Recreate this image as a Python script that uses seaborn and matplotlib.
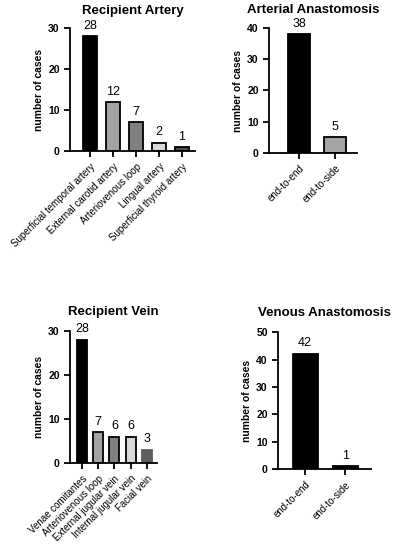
import pandas as pd
import matplotlib
matplotlib.use("Agg")
import matplotlib.pyplot as plt
import seaborn as sns

# datos
artery_names = ["Superficial temporal artery", "External carotid artery", "Arteriovenous loop",
                "Lingual artery", "Superficial thyroid artery"]
artery_cases = [28, 12, 7, 2, 1]
artery_colors = ["#000000", "#a3a3a3", "#7f7f7f", "#d9d9d9", "#4d4d4d"]

art_anast_names = ["end-to-end", "end-to-side"]
art_anast_cases = [38, 5]
art_anast_colors = ["#000000", "#a3a3a3"]

vein_names = ["Venae comitantes", "Arteriovenous loop", "External jugular vein",
              "Internal jugular vein", "Facial vein"]
vein_cases = [28, 7, 6, 6, 3]
vein_colors = ["#000000", "#a3a3a3", "#7f7f7f", "#d9d9d9", "#5e5e5e"]

ven_anast_names = ["end-to-end", "end-to-side"]
ven_anast_cases = [42, 1]
ven_anast_colors = ["#000000", "#000000"]

sns.set_style("ticks")
plt.rcParams["font.family"] = ["Liberation Sans", "DejaVu Sans"]
plt.rcParams["text.color"] = "black"
plt.rcParams["axes.labelcolor"] = "black"

fig = plt.figure(figsize=(3.94, 5.5), dpi=100)

paneles = [
    ("Recipient Artery", artery_names, artery_cases, artery_colors,
     [0.178, 0.7255, 0.317, 0.2235], (-0.87, 4.57), 30, 10, [True] * 5, 10),
    ("Arterial Anastomosis", art_anast_names, art_anast_cases, art_anast_colors,
     [0.683, 0.722, 0.223, 0.227], (-0.83, 1.61), 40, 10, [True] * 2, 11),
    ("Recipient Vein", vein_names, vein_cases, vein_colors,
     [0.178, 0.158, 0.220, 0.240], (-0.74, 4.62), 30, 10, [True, True, True, True, False], 11.5),
    ("Venous Anastomosis", ven_anast_names, ven_anast_cases, ven_anast_colors,
     [0.706, 0.147, 0.236, 0.249], (-0.675, 1.65), 50, 10, [True] * 2, 12),
]

for titulo, nombres, casos, colores, pos, xlim, ymax, paso, bordes, pad in paneles:
    ax = fig.add_axes(pos)
    df = pd.DataFrame({"cat": nombres, "n": casos})
    sns.barplot(data=df, x="cat", y="n", hue="cat", palette=colores, legend=False,
                width=0.62, edgecolor="black", linewidth=1.3, ax=ax)
    for patch, borde in zip(ax.patches, bordes):
        if not borde:
            patch.set_edgecolor(patch.get_facecolor())
    for i, v in enumerate(casos):
        ax.text(i, v + ymax * 0.035, str(v), ha="center", va="bottom", fontsize=9,
                color="black", clip_on=False)
    ax.set_xlim(*xlim)
    ax.set_ylim(0, ymax)
    ax.set_yticks(range(0, ymax + 1, paso))
    ax.set_title(titulo, fontsize=9.5, fontweight="bold", pad=pad, color="black")
    ax.set_xlabel("")
    ax.set_ylabel("number of cases", fontsize=7.4, fontweight="bold", labelpad=3)
    ax.set_xticks(range(len(nombres)))
    ax.set_xticklabels(nombres, rotation=45, ha="right", rotation_mode="anchor", fontsize=7)
    for lbl in ax.get_yticklabels():
        lbl.set_fontweight("bold")
        lbl.set_fontsize(7.5)
    ax.tick_params(width=1.3, length=4, colors="black")
    for s in ["left", "bottom"]:
        ax.spines[s].set_linewidth(1.3)
        ax.spines[s].set_color("black")
    sns.despine(ax=ax)

fig.savefig("out.png", dpi=100)
